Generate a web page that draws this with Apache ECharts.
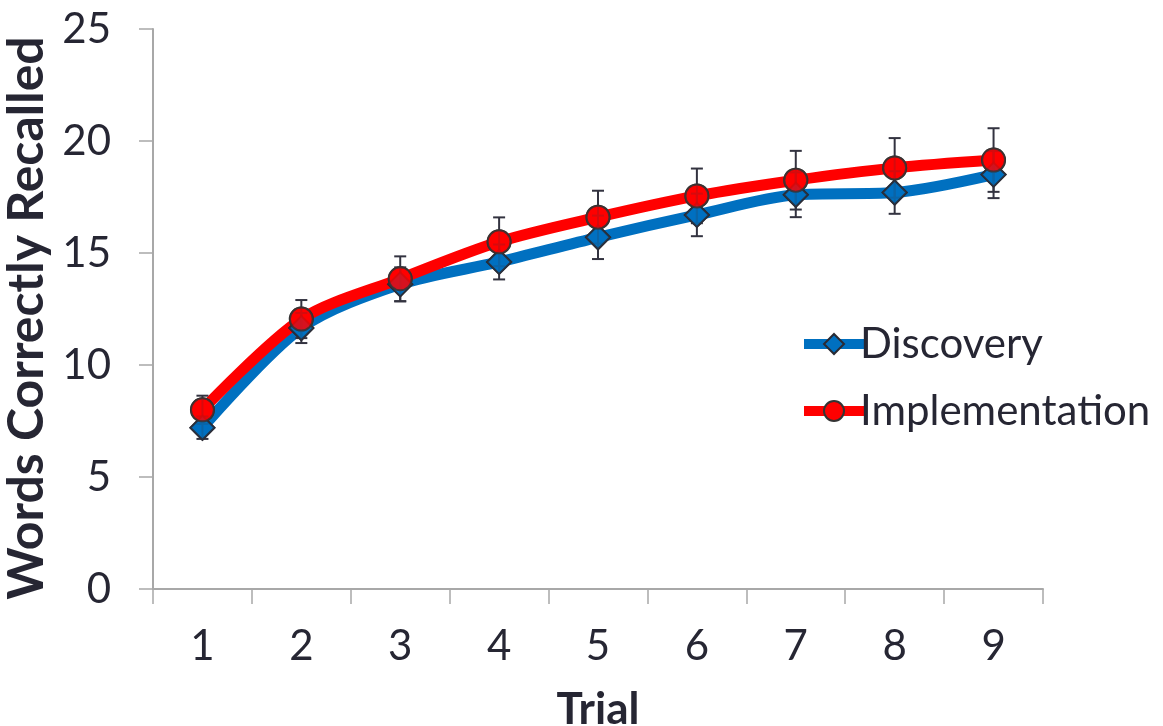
<!DOCTYPE html>
<html>
<head>
<meta charset="utf-8">
<script src="https://cdn.jsdelivr.net/npm/echarts@6/dist/echarts.min.js"></script>
<style>html,body{margin:0;padding:0;background:#fff}#c{width:1163px;height:726px}</style>
</head>
<body>
<div id="c"></div>
<script>
const trials = ['1','2','3','4','5','6','7','8','9'];
const discovery = [7.2, 11.65, 13.6, 14.6, 15.7, 16.7, 17.6, 17.7, 18.5];
const discoveryErr = [0.5, 0.67, 0.76, 0.78, 0.97, 0.95, 1.0, 0.95, 1.05];
const implementation = [8.0, 12.05, 13.85, 15.5, 16.6, 17.55, 18.25, 18.8, 19.15];
const implementationErr = [0.63, 0.85, 1.0, 1.09, 1.18, 1.22, 1.31, 1.33, 1.42];
const yTicks = [0, 25, 5];

const FONT = 'Lato';
const TXT = '#262633';
const chart = echarts.init(document.getElementById('c'), null, {renderer: 'canvas'});

function errSeries(vals, errs) {
  return {
    type: 'custom',
    z: 3,
    silent: true,
    data: vals.map((v, i) => [i, v - errs[i], v + errs[i]]),
    renderItem: function (params, api) {
      const lo = api.coord([api.value(0), api.value(1)]);
      const hi = api.coord([api.value(0), api.value(2)]);
      const w = 6;
      const st = {stroke: '#333340', lineWidth: 2};
      return {
        type: 'group',
        children: [
          {type: 'line', shape: {x1: lo[0], y1: lo[1], x2: hi[0], y2: hi[1]}, style: st},
          {type: 'line', shape: {x1: lo[0] - w, y1: lo[1], x2: lo[0] + w, y2: lo[1]}, style: st},
          {type: 'line', shape: {x1: hi[0] - w, y1: hi[1], x2: hi[0] + w, y2: hi[1]}, style: st}
        ]
      };
    }
  };
}

const blueStyle = {color: '#0070C0', borderColor: '#2a2a33', borderWidth: 2};
const redStyle = {color: '#FF0000', borderColor: '#333333', borderWidth: 2};

chart.setOption({
  animation: false,
  backgroundColor: '#ffffff',
  grid: {left: 153, right: 120, top: 29, bottom: 137, containLabel: false, outerBoundsMode: 'none'},
  legend: {
    orient: 'vertical',
    left: 794,
    top: 316,
    data: ['Discovery', 'Implementation'],
    itemWidth: 60,
    itemHeight: 25,
    itemGap: 21,
    lineStyle: {width: 10},
    textStyle: {fontFamily: FONT, fontSize: 42, color: TXT, lineHeight: 46, padding: [0, 0, 0, -9]}
  },
  xAxis: {
    type: 'category',
    data: trials,
    boundaryGap: true,
    name: 'Trial',
    nameLocation: 'middle',
    nameGap: 99,
    nameTextStyle: {fontFamily: FONT, fontSize: 44, fontWeight: 'bold', color: TXT},
    axisLine: {lineStyle: {color: '#a8a8a8', width: 2}},
    axisTick: {show: true, length: 15, alignWithLabel: false, lineStyle: {color: '#a8a8a8', width: 1.5}},
    axisLabel: {fontFamily: FONT, fontSize: 42, color: TXT, margin: 36}
  },
  yAxis: {
    type: 'value',
    min: yTicks[0],
    max: yTicks[1],
    interval: yTicks[2],
    name: 'Words Correctly Recalled',
    nameLocation: 'middle',
    nameRotate: 90,
    nameGap: 97,
    nameTextStyle: {fontFamily: FONT, fontSize: 50, fontWeight: 'bold', color: TXT, padding: [0, 18, 0, 0]},
    splitLine: {show: false},
    axisLine: {show: true, lineStyle: {color: '#a8a8a8', width: 2}},
    axisTick: {show: true, length: 14, lineStyle: {color: '#a8a8a8', width: 1.5}},
    axisLabel: {fontFamily: FONT, fontSize: 42, color: TXT, margin: 42}
  },
  series: [
    {
      name: 'Discovery', type: 'line', data: discovery, smooth: 0.3, z: 2,
      symbol: 'diamond', symbolSize: 24,
      lineStyle: {color: '#0070C0', width: 11},
      itemStyle: blueStyle
    },
    {
      name: 'Implementation', type: 'line', data: implementation, smooth: 0.3, z: 2,
      symbol: 'circle', symbolSize: 23,
      lineStyle: {color: '#FF0000', width: 11},
      itemStyle: redStyle
    },
    errSeries(discovery, discoveryErr),
    errSeries(implementation, implementationErr),
    {
      name: 'Discovery markers', type: 'scatter', data: discovery, z: 4,
      symbol: 'diamond', symbolSize: 24, itemStyle: blueStyle, silent: true
    },
    {
      name: 'Implementation markers', type: 'scatter', data: implementation, z: 5,
      symbol: 'circle', symbolSize: 23, itemStyle: redStyle, silent: true
    }
  ]
});
</script>
</body>
</html>
